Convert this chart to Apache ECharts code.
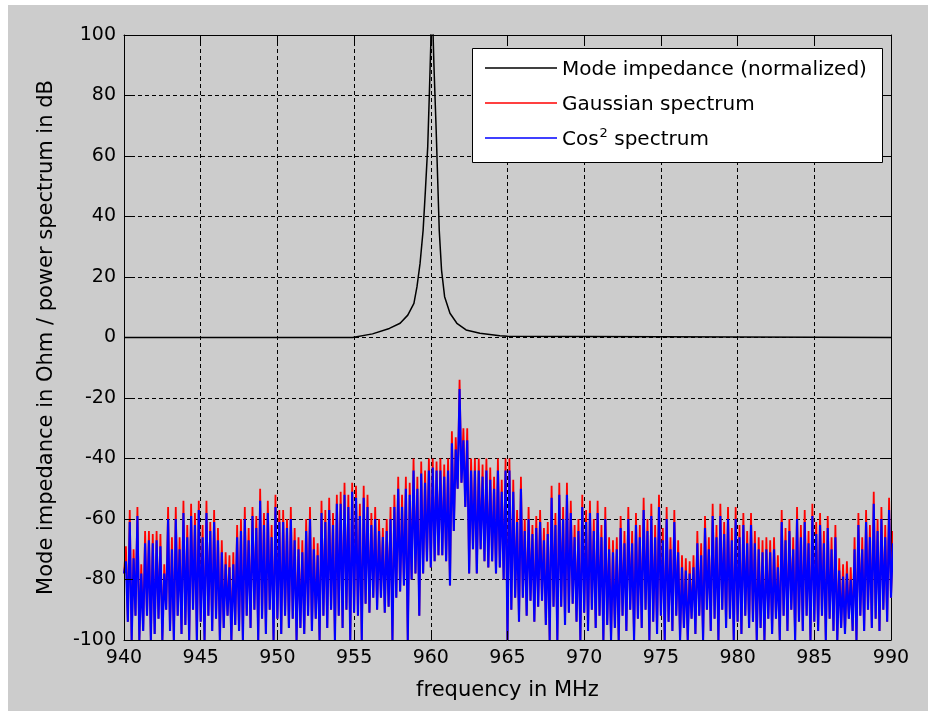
<!DOCTYPE html>
<html>
<head>
<meta charset="utf-8">
<script src="https://cdn.jsdelivr.net/npm/echarts/dist/echarts.min.js"></script>
<style>
html,body{margin:0;padding:0;background:#ffffff;width:928px;height:711px;overflow:hidden;}
#fig{position:absolute;left:8px;top:5px;width:920px;height:706px;background:#cccccc;}
</style>
</head>
<body>
<div id="fig"></div>
<script>
// ---- data ----
const xTicks = [940, 945, 950, 955, 960, 965, 970, 975, 980, 985, 990];
const yTicks = [-100, -80, -60, -40, -20, 0, 20, 40, 60, 80, 100];
const seriesNames = ['Mode impedance (normalized)', 'Gaussian spectrum', 'Cos\u00b2 spectrum'];

// mode impedance (normalized), dB
const impFreq = [940, 954.9, 955.0, 956.2, 957.3, 958.0, 958.5, 958.9, 959.1, 959.3, 959.5, 959.65, 959.8, 959.9, 960.0, 960.07, 960.15, 960.2, 960.35, 960.45, 960.55, 960.7, 960.9, 961.25, 961.7, 962.3, 963.2, 964.5, 965.0, 965.1, 990];
const impVal  = [0, 0, 0.4, 1.2, 3.0, 4.7, 7.4, 11.3, 16.8, 24.5, 35.5, 48.8, 63.1, 79.6, 97, 125, 100, 90.6, 68.6, 52, 35.5, 22.3, 13.5, 8, 4.7, 2.5, 1.4, 0.6, 0.4, 0, 0];

// spectra sampled in 0.25 MHz bins starting at 940 MHz:
// each bin: trough (at bin start) and peak (half a bin later)
const specStart = 940, specBin = 0.25;
const gaussPeak = [
 -69,-57,-70,-56,-75,-64,-64,-65,-64,-65,-75,-56,-66,-56,-66,-54,-62,-55,-58,-54,-62,
 -54,-61,-57,-63,-67,-71,-72,-71,-62,-60,-56,-63,-56,-59,-50,-58,-54,-62,-52,-57,
 -57,-60,-56,-63,-66,-67,-60,-56,-66,-68,-54,-57,-53,-58,-52,-51,-48,-52,-48,-49,
 -55,-49,-52,-58,-56,-60,-63,-60,-56,-52,-46,-52,-46,-48,-40,-46,-41,-44,-40,-40,
 -41,-40,-42,-40,-31,-33,-14,-30,-30,-40,-40,-40,-42,-40,-43,-46,-40,-47,-40,-40,
 -47,-57,-46,-60,-56,-62,-59,-57,-63,-61,-49,-58,-48,-56,-48,-54,-62,-60,-52,-57,
 -54,-60,-54,-62,-56,-66,-67,-66,-59,-64,-56,-64,-58,-62,-53,-60,-55,-62,-52,-63,
 -56,-66,-57,-67,-72,-73,-74,-72,-64,-68,-59,-66,-55,-62,-55,-61,-56,-63,-56,-62,
 -58,-64,-58,-64,-66,-67,-66,-67,-66,-72,-57,-63,-60,-66,-56,-62,-57,-64,-55,-61,
 -58,-64,-59,-66,-62,-73,-75,-74,-76,-66,-58,-66,-57,-62,-51,-60,-56,-62,-53,-64
];
const cos2Peak = [
 -74,-61,-73,-59,-78,-68,-67,-68,-67,-69,-78,-60,-70,-60,-70,-58,-66,-59,-62,-57,-66,
 -58,-64,-61,-67,-71,-75,-76,-75,-66,-64,-60,-67,-59,-63,-54,-62,-58,-66,-56,-61,
 -61,-63,-60,-67,-70,-71,-64,-60,-70,-72,-58,-61,-57,-62,-55,-55,-52,-56,-51,-53,
 -59,-53,-56,-62,-60,-64,-66,-64,-60,-56,-50,-56,-50,-52,-44,-50,-45,-48,-44,-43,
 -44,-44,-46,-44,-35,-37,-17,-34,-34,-44,-44,-44,-46,-44,-47,-50,-44,-51,-44,-44,
 -51,-61,-50,-64,-60,-65,-63,-61,-67,-65,-53,-62,-52,-60,-52,-58,-66,-64,-56,-61,
 -58,-64,-58,-66,-60,-70,-71,-70,-63,-68,-60,-68,-62,-66,-57,-64,-59,-66,-56,-67,
 -60,-70,-61,-71,-76,-77,-78,-76,-68,-72,-63,-70,-59,-66,-59,-65,-60,-67,-60,-66,
 -62,-68,-62,-68,-70,-71,-70,-71,-70,-76,-61,-67,-64,-70,-60,-66,-61,-68,-59,-65,
 -62,-68,-63,-70,-66,-77,-79,-78,-80,-70,-62,-70,-61,-66,-55,-64,-60,-66,-57,-68
];
const specTrough = [
 -78,-94,-100,-92,-100,-97,-92,-100,-98,-93,-100,-90,-97,-100,-92,-98,-95,-100,-90,-100,-94,
 -100,-92,-97,-93,-100,-96,-92,-100,-95,-97,-100,-92,-96,-90,-100,-93,-98,-90,-100,-93,
 -98,-92,-96,-93,-100,-96,-98,-92,-97,-93,-100,-92,-96,-90,-100,-92,-96,-90,-100,-91,
 -92,-100,-88,-91,-86,-90,-86,-91,-89,-100,-86,-84,-82,-100,-80,-78,-92,-78,-74,-76,
 -74,-72,-72,-74,-82,-64,-50,-48,-56,-78,-70,-78,-70,-74,-76,-74,-78,-76,-80,-100,
 -90,-86,-94,-86,-92,-87,-94,-89,-87,-95,-100,-89,-100,-89,-95,-91,-88,-94,-100,-91,
 -97,-90,-96,-92,-100,-95,-100,-96,-100,-92,-97,-90,-100,-93,-96,-90,-100,-94,-98,-92,
 -100,-94,-97,-92,-100,-96,-100,-93,-98,-92,-100,-90,-97,-93,-100,-90,-96,-93,-100,-94,
 -98,-92,-96,-94,-100,-96,-100,-93,-98,-93,-100,-92,-97,-90,-100,-94,-97,-92,-100,-94,
 -97,-92,-100,-93,-97,-100,-96,-98,-93,-97,-100,-92,-97,-90,-96,-93,-97,-90,-94,-86
];

// ---- build series data from the arrays ----
function spectrum(peaks) {
  const out = [];
  for (let i = 0; i < peaks.length; i++) {
    const f = specStart + i * specBin;
    out.push([f, specTrough[i]]);
    out.push([f + specBin / 2, peaks[i]]);
  }
  return out;
}
const impData = impFreq.map((f, i) => [f, impVal[i]]);

const FONT = 'DejaVu Sans';
const chart = echarts.init(document.getElementById('fig'), null, {renderer: 'canvas'});

const axisCommon = {
  type: 'value',
  axisLine: {show: true, onZero: false, lineStyle: {color: '#000', width: 1}},
  axisTick: {show: true, inside: true, length: 9, lineStyle: {color: '#000', width: 1}},
  splitLine: {show: false},
  animation: false
};

const option = {
  animation: false,
  backgroundColor: '#cccccc',
  grid: {left: 116, top: 30, width: 767, height: 605, outerBoundsMode: 'none', containLabel: false},
  graphic: [{
    type: 'rect', z: 8,
    shape: {x: 464.5, y: 43.5, width: 410, height: 114},
    style: {fill: '#ffffff', stroke: '#000000', lineWidth: 1}
  }],
  legend: {
    orient: 'vertical', left: 477, top: 51, padding: 0,
    icon: 'rect', itemWidth: 72, itemHeight: 1.5, itemGap: 11, z: 10,
    selectedMode: false,
    data: seriesNames,
    formatter: function (name) {
      if (name === seriesNames[2]) return '{n|Cos}{s|2}{n| spectrum}';
      return '{n|' + name + '}';
    },
    textStyle: {
      color: '#000', fontFamily: FONT, fontSize: 20, lineHeight: 24,
      rich: {
        n: {color: '#000', fontFamily: FONT, fontSize: 20, lineHeight: 24, verticalAlign: 'bottom'},
        s: {color: '#000', fontFamily: FONT, fontSize: 13, lineHeight: 14, verticalAlign: 'bottom', padding: [0, 0, 10, 1]}
      }
    }
  },
  xAxis: [
    Object.assign({}, axisCommon, {
      position: 'bottom', min: xTicks[0], max: xTicks[xTicks.length - 1], interval: xTicks[1] - xTicks[0], z: 5,
      axisLabel: {show: true, color: '#000', fontFamily: FONT, fontSize: 19, margin: 9, showMinLabel: true, showMaxLabel: true},
      name: 'frequency in MHz', nameLocation: 'middle', nameGap: 40,
      nameTextStyle: {color: '#000', fontFamily: FONT, fontSize: 21}
    }),
    Object.assign({}, axisCommon, {
      position: 'top', min: xTicks[0], max: xTicks[xTicks.length - 1], interval: xTicks[1] - xTicks[0], z: 0,
      axisLabel: {show: false},
      splitLine: {show: true, lineStyle: {color: '#000', width: 1, type: [4, 3]}}
    })
  ],
  yAxis: [
    Object.assign({}, axisCommon, {
      position: 'left', min: yTicks[0], max: yTicks[yTicks.length - 1], interval: yTicks[1] - yTicks[0], z: 5,
      axisLabel: {show: true, color: '#000', fontFamily: FONT, fontSize: 19, margin: 8, showMinLabel: true, showMaxLabel: true},
      name: 'Mode impedance in Ohm / power spectrum in dB', nameLocation: 'middle', nameGap: 67,
      nameTextStyle: {color: '#000', fontFamily: FONT, fontSize: 21}
    }),
    Object.assign({}, axisCommon, {
      position: 'right', min: yTicks[0], max: yTicks[yTicks.length - 1], interval: yTicks[1] - yTicks[0], z: 0,
      axisLabel: {show: false},
      splitLine: {show: true, lineStyle: {color: '#000', width: 1, type: [4, 3]}}
    })
  ],
  series: [
    {
      name: seriesNames[0], type: 'line', data: impData, xAxisIndex: 0, yAxisIndex: 0,
      symbol: 'none', showSymbol: false, clip: true, silent: true, z: 2,
      lineStyle: {color: '#000000', width: 1.5}, itemStyle: {color: '#000000'}
    },
    {
      name: seriesNames[1], type: 'line', data: spectrum(gaussPeak), xAxisIndex: 0, yAxisIndex: 0,
      symbol: 'none', showSymbol: false, clip: true, silent: true, z: 3,
      lineStyle: {color: '#ff0000', width: 1.8, join: 'miter'}, itemStyle: {color: '#ff0000'}
    },
    {
      name: seriesNames[2], type: 'line', data: spectrum(cos2Peak), xAxisIndex: 0, yAxisIndex: 0,
      symbol: 'none', showSymbol: false, clip: true, silent: true, z: 4,
      lineStyle: {color: '#0000ff', width: 2.1, join: 'bevel'}, itemStyle: {color: '#0000ff'}
    }
  ]
};
chart.setOption(option);
</script>
</body>
</html>
